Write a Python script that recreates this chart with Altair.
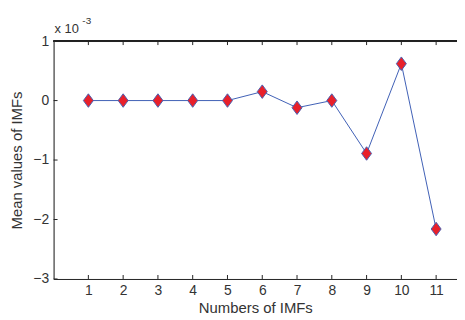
import altair as alt
import pandas as pd

imf_numbers = [1, 2, 3, 4, 5, 6, 7, 8, 9, 10, 11]
mean_values = [0.0, 0.0, 0.0, 0.0, 0.0, 0.15, -0.12, 0.0, -0.89, 0.62, -2.16]
x_ticks = [1, 2, 3, 4, 5, 6, 7, 8, 9, 10, 11]
y_ticks = [-3, -2, -1, 0, 1]

W, H = 407, 240
FONT = "Liberation Sans"
TXT = "#333333"
AX = "#222222"

df = pd.DataFrame({"n": imf_numbers, "v": mean_values})
xt = pd.DataFrame({"t": x_ticks})
yt = pd.DataFrame({"t": y_ticks})

xs = alt.Scale(domain=[0, 11.6], nice=False, zero=False)
ys = alt.Scale(domain=[-3, 1], nice=False, zero=False)

base = alt.Chart(df)

line = base.mark_line(color="#3f5fb5", strokeWidth=1).encode(
    x=alt.X("n:Q", scale=xs,
            axis=alt.Axis(values=x_ticks, format="d", title="Numbers of IMFs", ticks=False,
                          grid=False, domainColor=AX, labelColor=TXT, titleColor=TXT,
                          labelFont=FONT, titleFont=FONT, labelFontSize=14,
                          titleFontSize=15, titleFontWeight="normal", labelPadding=5,
                          titlePadding=3)),
    y=alt.Y("v:Q", scale=ys,
            axis=alt.Axis(values=y_ticks, format="d", title="Mean values of IMFs", ticks=False,
                          grid=False, domainColor=AX, labelColor=TXT, titleColor=TXT,
                          labelFont=FONT, titleFont=FONT, labelFontSize=14,
                          titleFontSize=15, titleFontWeight="normal", labelPadding=5,
                          titlePadding=8)),
)

pts = base.mark_point(
    shape="M0,-1.15L0.85,0L0,1.15L-0.85,0Z", filled=True, fill="#e8202a",
    stroke="#4a5fb0", strokeWidth=1, size=140, opacity=1,
).encode(x=alt.X("n:Q", scale=xs), y=alt.Y("v:Q", scale=ys))

xtick_b = alt.Chart(xt).mark_rule(color=AX).encode(
    x=alt.X("t:Q", scale=xs), y=alt.value(H), y2=alt.value(H - 4))
xtick_t = alt.Chart(xt).mark_rule(color=AX).encode(
    x=alt.X("t:Q", scale=xs), y=alt.value(0), y2=alt.value(4))
ytick = alt.Chart(yt).mark_rule(color=AX).encode(
    y=alt.Y("t:Q", scale=ys), x=alt.value(0), x2=alt.value(4))
top_line = alt.Chart(xt).mark_rule(color=AX).encode(
    x=alt.value(0), x2=alt.value(W), y=alt.value(0))

exp_base = alt.Chart(xt.head(1)).mark_text(
    text="x 10", font=FONT, fontSize=13, color=TXT, align="left", baseline="alphabetic"
).encode(x=alt.value(1), y=alt.value(-8))
exp_sup = alt.Chart(xt.head(1)).mark_text(
    text="-3", font=FONT, fontSize=10, color=TXT, align="left", baseline="alphabetic"
).encode(x=alt.value(29), y=alt.value(-17))

chart = alt.layer(xtick_b, xtick_t, ytick, top_line, line, pts, exp_base, exp_sup).properties(
    width=W, height=H,
    autosize=alt.AutoSizeParams(type="none"),
    padding={"left": 46, "top": 32, "right": 0, "bottom": 40},
).configure_view(stroke=None).configure(background="white")

chart.save("out.html", embed_options={"renderer": "svg", "actions": False})
